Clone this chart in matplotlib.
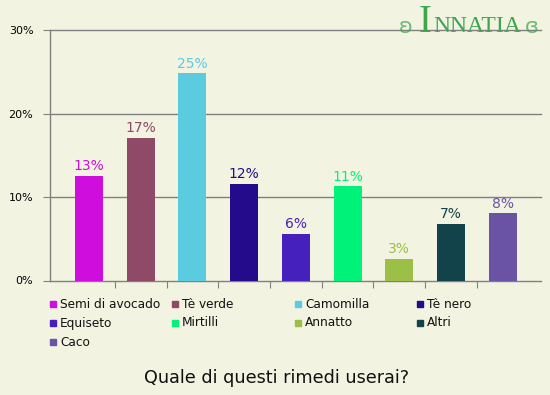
import matplotlib.pyplot as plt
from matplotlib.patches import Rectangle

categories = ["Semi di avocado", "Tè verde", "Camomilla", "Tè nero", "Equiseto",
              "Mirtilli", "Annatto", "Altri", "Caco"]
values = [12.6, 17.1, 24.9, 11.6, 5.6, 11.3, 2.6, 6.8, 8.1]
colors = ["#cf0ddd", "#8e4a66", "#5bcbe0", "#240b8b", "#4620bd",
          "#00f378", "#9bbf47", "#13434a", "#6a53a4"]
yticks = [0, 10, 20, 30]
title = "Quale di questi rimedi userai?"

bg = "#f3f3e2"
axis_col = "#808080"

fig = plt.figure(figsize=(5.5, 3.95), dpi=100, facecolor=bg)
ax = fig.add_axes([50 / 550, 1 - 280.5 / 395, 491 / 550, 250 / 395])
ax.set_facecolor(bg)

x = list(range(len(categories)))
ax.bar(x, values, width=0.54, color=colors, zorder=3)
for xi, v, c in zip(x, values, colors):
    ax.text(xi, v + 0.3, f"{round(v):d}%", ha="center", va="bottom",
            color=c, fontsize=10, zorder=4)

ax.set_xlim(-0.754, 8.74)
ax.set_ylim(0, 30)
ax.set_yticks(yticks)
ax.set_yticklabels([f"{t}%" for t in yticks], fontsize=8)
ax.set_xticks([i + 0.5 for i in range(len(categories) - 1)])
ax.set_xticklabels([])
ax.tick_params(axis="y", length=5, color=axis_col, pad=7)
ax.tick_params(axis="x", length=5, color=axis_col)
for t in yticks[1:]:
    ax.axhline(t, color=axis_col, linewidth=1, zorder=1, clip_on=False)
for s in ["top", "right"]:
    ax.spines[s].set_visible(False)
for s in ["left", "bottom"]:
    ax.spines[s].set_color(axis_col)
    ax.spines[s].set_linewidth(1)
    ax.spines[s].set_zorder(2)

# legend, laid out in 4 columns like the original
col_x = [50, 172, 295, 417]
for i, (name, c) in enumerate(zip(categories, colors)):
    px = col_x[i % 4]
    py = 304 + 19 * (i // 4)
    fig.patches.append(Rectangle((px / 550, 1 - (py + 3) / 395), 6 / 550, 6 / 395,
                                 transform=fig.transFigure, color=c, figure=fig))
    fig.text((px + 10) / 550, 1 - py / 395, name, fontsize=8.7, va="center",
             color="#111111")

fig.text(276.5 / 550, 1 - 378 / 395, title, fontsize=12.7, ha="center", va="center",
         color="#111111")

# logo
logo_green = "#3da64f"
fig.text(399 / 550, 1 - 33 / 395, "ʚ", fontsize=15, color=logo_green, va="baseline",
         alpha=0.75, family="DejaVu Sans")
fig.text(419 / 550, 1 - 32 / 395, "I", fontsize=28, color=logo_green, va="baseline",
         family="Liberation Serif")
fig.text(433 / 550, 1 - 32 / 395, "NNATIA", fontsize=17, color=logo_green,
         va="baseline", family="Liberation Serif")
fig.text(525 / 550, 1 - 33 / 395, "ɞ", fontsize=15, color=logo_green, va="baseline",
         alpha=0.75, family="DejaVu Sans")

fig.savefig("out.png", dpi=100, facecolor=bg)
